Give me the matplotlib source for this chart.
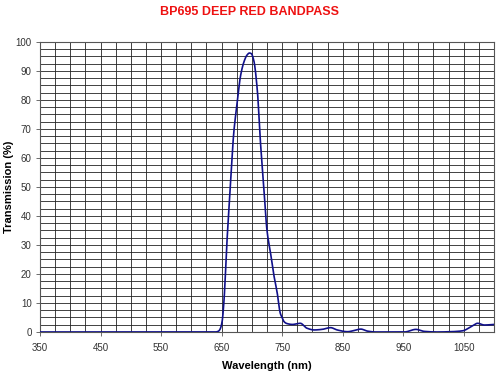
import matplotlib
matplotlib.use("Agg")
import matplotlib.pyplot as plt
import numpy as np
from matplotlib.ticker import MultipleLocator

plt.rcParams['font.family'] = ['Liberation Sans', 'DejaVu Sans']

wavelength = [350, 400, 500, 600, 640, 645, 648, 651, 654, 659, 665, 670, 676, 681, 687, 692,
              696, 699, 703, 709, 714, 720, 725, 731, 736, 742, 747, 750, 753, 758, 767,
              780, 791, 803, 816, 830, 841, 858, 869, 880, 891, 904, 952, 971, 985, 1006,
              1029, 1048, 1062, 1073, 1084, 1100]
transmission = [0, 0, 0, 0, 0, 0.3, 1.2, 3.8, 11, 31.7, 52, 68.5, 79.4, 88, 93.2, 95.5,
                96.2, 96.0, 93.8, 83.4, 66, 49, 35, 27, 20, 13.3, 6.4, 5.0, 3.6, 2.9, 2.6,
                3.0, 1.3, 0.7, 0.9, 1.5, 0.7, 0.1, 0.5, 1.0, 0.3, 0, 0, 0.9, 0.2, 0,
                0.1, 0.4, 1.8, 3.0, 2.4, 2.6]

title = "BP695 DEEP RED BANDPASS"
xlabel = "Wavelength (nm)"
ylabel = "Transmission (%)"

fig = plt.figure(figsize=(5, 3.75), dpi=100)
ax = fig.add_axes([0.08, 0.1147, 0.908, 0.7733])

xs = np.array(wavelength, dtype=float)
ys = np.array(transmission, dtype=float)

# monotone cubic (PCHIP-like) interpolation
def pchip(x, y, xn):
    h = np.diff(x)
    d = np.diff(y) / h
    m = np.zeros_like(y)
    for k in range(1, len(y) - 1):
        if d[k-1] * d[k] <= 0:
            m[k] = 0
        else:
            w1 = 2*h[k] + h[k-1]
            w2 = h[k] + 2*h[k-1]
            m[k] = (w1 + w2) / (w1 / d[k-1] + w2 / d[k])
    m[0] = d[0]
    m[-1] = d[-1]
    idx = np.clip(np.searchsorted(x, xn) - 1, 0, len(x) - 2)
    t = (xn - x[idx]) / h[idx]
    h00 = 2*t**3 - 3*t**2 + 1
    h10 = t**3 - 2*t**2 + t
    h01 = -2*t**3 + 3*t**2
    h11 = t**3 - t**2
    return h00*y[idx] + h10*h[idx]*m[idx] + h01*y[idx+1] + h11*h[idx]*m[idx+1]

xn = np.linspace(350, 1100, 1500)
yn = pchip(xs, ys, xn)
ax.plot(xn, yn, color='#10108a', lw=1.2, zorder=3)

ax.set_xlim(350, 1100)
ax.set_ylim(0, 100)
ax.set_xticks(np.arange(350, 1051, 100))
ax.xaxis.set_minor_locator(MultipleLocator(25))
ax.yaxis.set_major_locator(MultipleLocator(10))
ax.yaxis.set_minor_locator(MultipleLocator(2.5))
ax.grid(which='both', color='#222222', lw=0.6)
ax.set_axisbelow(True)
for s in ax.spines.values():
    s.set_color('#555555')
    s.set_linewidth(0.8)
ax.tick_params(which='major', length=3, width=0.6, color='#555555', labelsize=7, labelcolor='#333333', pad=3)
ax.tick_params(which='minor', length=0)
ax.tick_params(axis='x', pad=5)

ax.set_xlabel(xlabel, fontsize=8, fontweight='bold', labelpad=6)
ax.set_ylabel(ylabel, fontsize=8, fontweight='bold')
ax.yaxis.set_label_coords(-0.057, 0.5)
fig.text(0.5, 0.968, title, color='#ee1111', fontsize=9, fontweight='bold', ha='center', va='center')

fig.savefig('out.png', dpi=100)
